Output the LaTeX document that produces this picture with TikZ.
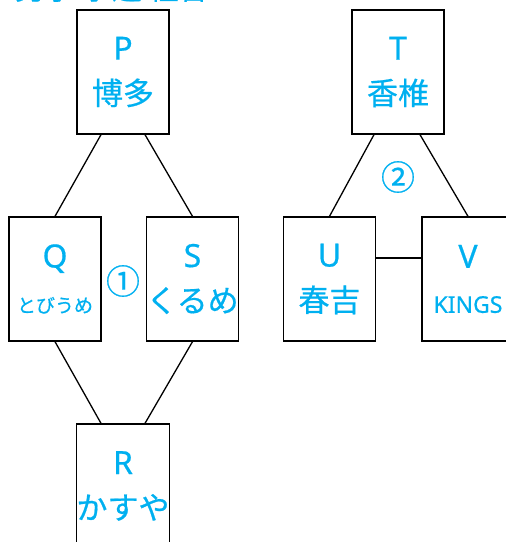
\documentclass[tikz,border=0pt]{standalone}
\usepackage{fontspec}
\setmainfont{Noto Sans}[FakeBold=0.6]
\newfontfamily\jp{Noto Sans CJK JP}[FakeBold=0.6]
\definecolor{teamblue}{HTML}{00B0F0}
\newcommand{\kj}{\jp\fontsize{31}{45}\selectfont}
\tikzset{
  team/.style={draw=black, line width=1.3pt, minimum width=92pt, minimum height=124pt,
    inner sep=0pt, align=center, text=teamblue, font=\fontsize{32}{45}\selectfont},
  link/.style={draw=black, line width=1.3pt},
  circnum/.style={text=teamblue, font=\jp\fontsize{34}{34}\selectfont, inner sep=0pt}
}
\begin{document}
\begin{tikzpicture}[x=1pt,y=1pt]
\useasboundingbox (0,0) rectangle (506,542);
\clip (0,0) rectangle (506,542);
\node[anchor=base west, text=teamblue, font=\jp\fontsize{30}{30}\selectfont, inner sep=0pt] (title) at (15,542.6) {男子 予選 組合};
\node[team] (P) at (123,470) {P\\{\kj 博多}};
\node[team] (Q) at (55,263) {Q\\{\jp\fontsize{19}{45}\selectfont とびうめ}};
\node[team] (S) at (192.5,263) {S\\{\kj くるめ}};
\node[team] (R) at (123,56) {R\\{\kj かすや}};
\node[team] (T) at (398,470) {T\\{\kj 香椎}};
\node[team] (U) at (329.5,263) {U\\{\kj 春吉}};
\node[team] (V) at (468,263) {V\\{\fontsize{23}{45}\selectfont KINGS}};
\node[circnum] (m1) at (123,261) {①};
\node[circnum] (m2) at (398,365) {②};
\draw[link] ([xshift=-22pt]P.south) -- (Q.north);
\draw[link] ([xshift=22pt]P.south) -- (S.north);
\draw[link] (Q.south) -- ([xshift=-22pt]R.north);
\draw[link] (S.south) -- ([xshift=22pt]R.north);
\draw[link] ([xshift=-24pt]T.south) -- (U.north);
\draw[link] ([xshift=22pt]T.south) -- (V.north);
\draw[link] ([yshift=21pt]U.east) -- ([yshift=21pt]V.west);
\end{tikzpicture}
\end{document}
